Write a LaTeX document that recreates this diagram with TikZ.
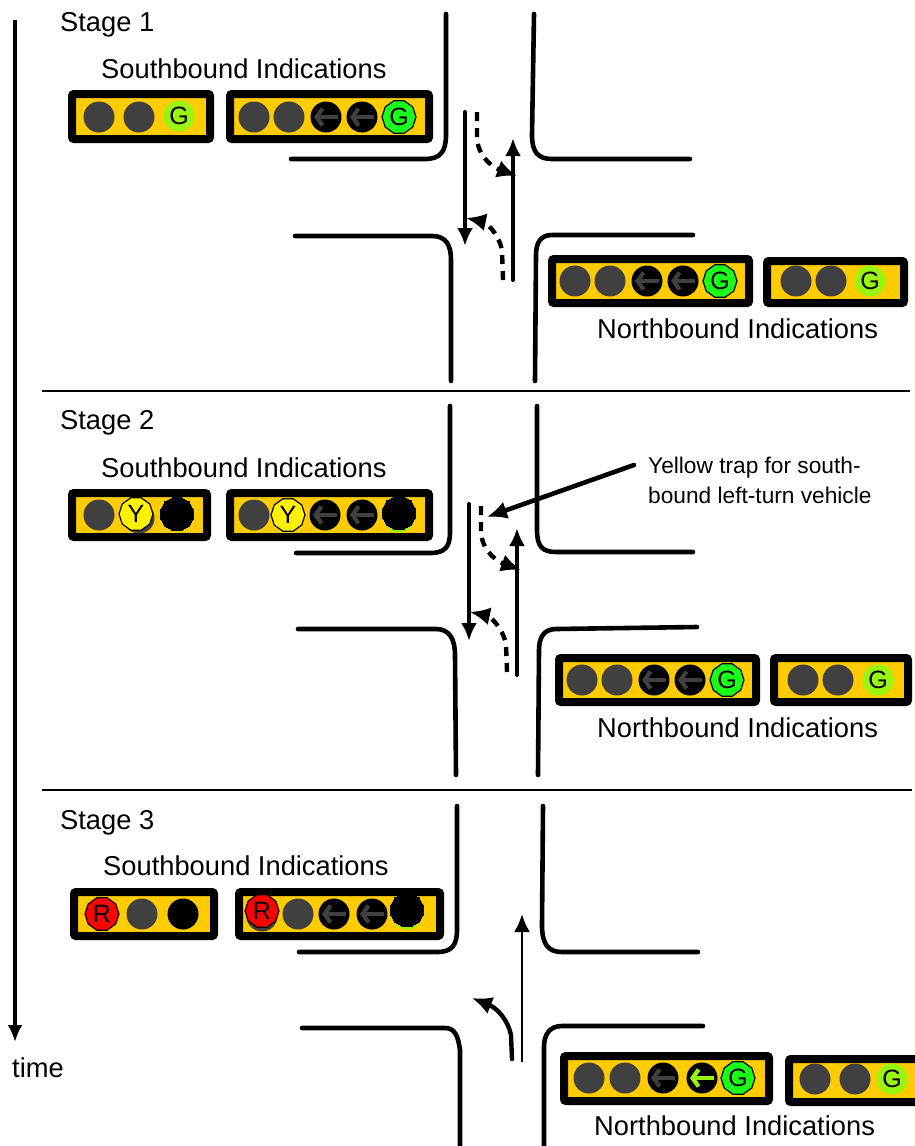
\documentclass[tikz,border=0pt]{standalone}
\usepackage{fontspec}
\setmainfont{Liberation Sans}
\usetikzlibrary{arrows.meta,shapes.geometric}
\definecolor{amber}{HTML}{FFCC00}
\definecolor{lampgrey}{HTML}{404040}
\definecolor{lime}{HTML}{99F50F}
\definecolor{brightgreen}{HTML}{19FF19}
\tikzset{
  curb/.style={line width=4.6pt,line cap=round},
  thru/.style={line width=4pt,line cap=round,-{Latex[length=18pt,width=16pt]}},
  turn/.style={line width=4.4pt,dash pattern=on 9pt off 7pt,-{Latex[length=20pt,width=18pt]}},
  stageline/.style={line width=1.2pt},
  housing/.style={draw=black,fill=amber,line width=8pt,rounded corners=2pt},
  lampoff/.style={circle,fill=lampgrey,inner sep=0pt,minimum size=31pt},
  lampdark/.style={lampoff,fill=black},
  lamplime/.style={lampoff,fill=lime,font=\fontsize{25}{26}\selectfont},
  lampoct/.style={regular polygon,regular polygon sides=10,draw=black,line width=1.2pt,inner sep=0pt,minimum size=34pt,font=\fontsize{25}{26}\selectfont},
  lampgreen/.style={lampoct,fill=brightgreen},
  lampyellow/.style={lampoct,fill=yellow},
  lampred/.style={lampoct,fill=red},
  lampblack/.style={lampoct,regular polygon sides=12,fill=black,line width=0pt},
  big/.style={anchor=base west,inner sep=0pt,font=\fontsize{27.3}{30}\selectfont},
  small/.style={anchor=base west,inner sep=0pt,font=\fontsize{22.7}{26}\selectfont},
}
\newcommand{\arrowlamp}[4]{%
  \node[lampdark] (#1) at (#2,#3) {};
  \draw[#4,line width=4.2pt,{Straight Barb[length=6pt,width=17pt]}-] ([xshift=-12pt]#1.center) -- ([xshift=12pt]#1.center);
}
\begin{document}
\begin{tikzpicture}[x=1pt,y=-1pt]
\useasboundingbox (0,0) rectangle (915,1146);
\clip (0,0) rectangle (915,1146);
% time axis
\coordinate (timetop) at (15,20);
\coordinate (timeend) at (15,1042);
\draw[line width=3.8pt,-{Latex[length=17pt,width=15pt]}] (timetop) -- (timeend);
\node[big] (timelabel) at (12,1077) {time};
\draw[stageline] (42,391) -- (910,391);
\draw[stageline] (42,790) -- (912,790);

% stage 1
\node[big] (stagea) at (60,31) {Stage 1};
\node[big] (southa) at (101,78) {Southbound Indications};
\node[big] (northa) at (597,338) {Northbound Indications};
\draw[curb] (446,14) -- (446,135) .. controls (446,152) and (440,159) .. (425,159) -- (291,159);
\draw[curb] (534,14) -- (532,135) .. controls (532,152) and (538,159) .. (552,159) -- (690,159);
\draw[curb] (295,236) -- (432,236) .. controls (446,236) and (451,245) .. (451,260) -- (451,381);
\draw[curb] (693,235) -- (552,235) .. controls (541,235) and (536,242) .. (536,255) -- (535,381);
\draw[housing] (72,94) rectangle (210,139);
\draw[housing] (230,94) rectangle (429,139);
\node[lampoff] (sa1) at (99,117) {};
\node[lampoff] (sa2) at (139,117) {};
\node[lamplime] (sa3) at (179,116) {G};
\node[lampoff] (sb1) at (254,117) {};
\node[lampoff] (sb2) at (289,117) {};
\arrowlamp{sb3}{326}{117}{lampgrey}
\arrowlamp{sb4}{362}{117}{lampgrey}
\node[lampgreen] (sb5) at (399,117) {G};
\draw[housing] (552,259) rectangle (749,303);
\draw[housing] (767,261) rectangle (904,303);
\node[lampoff] (na1) at (575,281) {};
\node[lampoff] (na2) at (610,281) {};
\arrowlamp{na3}{647}{281}{lampgrey}
\arrowlamp{na4}{683}{281}{lampgrey}
\node[lampgreen] (na5) at (720,281) {G};
\node[lampoff] (nb1) at (796,281) {};
\node[lampoff] (nb2) at (831,281) {};
\node[lamplime] (nb3) at (870,281) {G};
\coordinate (sthrua) at (465,112);
\coordinate (sthruaend) at (465,246);
\coordinate (nthrua) at (513,280);
\coordinate (nthruaend) at (513,138);
\coordinate (sturna) at (477,112);
\coordinate (sturnaend) at (517,176);
\coordinate (nturna) at (503,280);
\coordinate (nturnaend) at (466,218);
\draw[thru] (sthrua) -- (sthruaend);
\draw[thru] (nthrua) -- (nthruaend);
\draw[turn] (sturna) -- (477,140) .. controls (480,160) and (495,168) .. (sturnaend);
\draw[turn] (nturna) -- (502,250) .. controls (498,232) and (485,222) .. (nturnaend);

% stage 2
\node[big] (stageb) at (60,429) {Stage 2};
\node[big] (southb) at (101,477) {Southbound Indications};
\node[big] (northb) at (597,737) {Northbound Indications};
\draw[curb] (450,406) -- (450,532) .. controls (450,547) and (445,553) .. (430,553) -- (296,553);
\draw[curb] (537,406) -- (537,530) .. controls (537,546) and (542,552) .. (556,552) -- (693,552);
\draw[curb] (298,629) -- (436,629) .. controls (450,629) and (455,640) .. (455,655) -- (456,775);
\draw[curb] (697,627) -- (556,629) .. controls (545,629) and (539,636) .. (539,650) -- (538,775);
\draw[housing] (72,493) rectangle (207,537);
\draw[housing] (230,493) rectangle (429,537);
\node[lampoff] (sc1) at (99,515) {};
\node[lampoff] (sc2) at (139,518) {};
\node[lampyellow] (sc2y) at (136,514) {Y};
\node[lampoff,fill=lime] (sc3g) at (177,516) {};
\node[lampblack] (sc3) at (177,514) {};
\node[lampoff] (sd1) at (254,515) {};
\node[lampyellow] (sd2) at (288,515) {Y};
\arrowlamp{sd3}{325}{515}{lampgrey}
\arrowlamp{sd4}{362}{515}{lampgrey}
\node[lampoff,fill=lime] (sd5g) at (399,517) {};
\node[lampblack] (sd5) at (399,513) {};
\draw[housing] (559,658) rectangle (756,702);
\draw[housing] (774,658) rectangle (908,702);
\node[lampoff] (nc1) at (582,680) {};
\node[lampoff] (nc2) at (617,680) {};
\arrowlamp{nc3}{654}{680}{lampgrey}
\arrowlamp{nc4}{690}{680}{lampgrey}
\node[lampgreen] (nc5) at (727,680) {G};
\node[lampoff] (nd1) at (803,680) {};
\node[lampoff] (nd2) at (838,680) {};
\node[lamplime] (nd3) at (878,680) {G};
\coordinate (sthrub) at (469,504);
\coordinate (sthrubend) at (469,641);
\coordinate (nthrub) at (517,675);
\coordinate (nthrubend) at (517,528);
\coordinate (sturnb) at (481,506);
\coordinate (sturnbend) at (521,570);
\coordinate (nturnb) at (507,672);
\coordinate (nturnbend) at (470,612);
\draw[thru] (sthrub) -- (sthrubend);
\draw[thru] (nthrub) -- (nthrubend);
\draw[turn] (sturnb) -- (481,534) .. controls (484,554) and (499,562) .. (sturnbend);
\draw[turn] (nturnb) -- (506,644) .. controls (502,626) and (489,616) .. (nturnbend);
\node[small] (trapa) at (648,473) {Yellow trap for south-};
\node[small] (trapb) at (648,503) {bound left-turn vehicle};
\coordinate (trapstart) at (634,465);
\coordinate (trapend) at (487,517);
\draw[thru,line width=4.6pt,-{Latex[length=20pt,width=18pt]}] (trapstart) -- (trapend);

% stage 3
\node[big] (stagec) at (60,829) {Stage 3};
\node[big] (southc) at (103,875) {Southbound Indications};
\node[big] (northc) at (594,1135) {Northbound Indications};
\draw[curb] (457,806) -- (457,930) .. controls (457,945) and (452,952) .. (437,952) -- (299,952);
\draw[curb] (543,806) -- (542,925) .. controls (542,944) and (548,952) .. (562,952) -- (698,952);
\draw[curb] (302,1028) -- (445,1028) .. controls (455,1028) and (458,1036) .. (460,1050) -- (460,1146);
\draw[curb] (703,1026) -- (562,1026) .. controls (550,1026) and (544,1034) .. (544,1047) -- (544,1146);
\draw[housing] (74,892) rectangle (214,936);
\draw[housing] (239,892) rectangle (440,936);
\node[lampred] (se1) at (102,914) {R};
\node[lampoff] (se2) at (142,914) {};
\node[lampdark] (se3) at (183,914) {};
\node[lampoff] (sf1r) at (262,916) {};
\node[lampred] (sf1) at (262,911) {R};
\node[lampoff] (sf2) at (298,914) {};
\arrowlamp{sf3}{334}{914}{lampgrey}
\arrowlamp{sf4}{372}{914}{lampgrey}
\node[lampoff,fill=lime] (sf5g) at (407,914) {};
\node[lampblack] (sf5) at (407,910) {};
\draw[housing] (564,1056) rectangle (769,1101);
\draw[housing] (789,1059) rectangle (925,1102);
\node[lampoff] (ne1) at (589,1078) {};
\node[lampoff] (ne2) at (625,1078) {};
\arrowlamp{ne3}{663}{1078}{lampgrey}
\arrowlamp{ne4}{702}{1078}{lime}
\node[lampgreen] (ne5) at (738,1078) {G};
\node[lampoff] (nf1) at (815,1079) {};
\node[lampoff] (nf2) at (855,1079) {};
\node[lamplime] (nf3) at (892,1079) {G};
\coordinate (nthruc) at (522,1062);
\coordinate (nthrucend) at (522,914);
\coordinate (nturnc) at (512,1059);
\coordinate (nturncend) at (472,998);
\draw[line width=2.6pt,-{Latex[length=18pt,width=16pt]}] (nthruc) -- (nthrucend);
\draw[line width=4.4pt,line cap=round,-{Latex[length=20pt,width=18pt]}] (nturnc) -- (511,1035) .. controls (508,1020) and (497,1008) .. (nturncend);
\end{tikzpicture}
\end{document}
